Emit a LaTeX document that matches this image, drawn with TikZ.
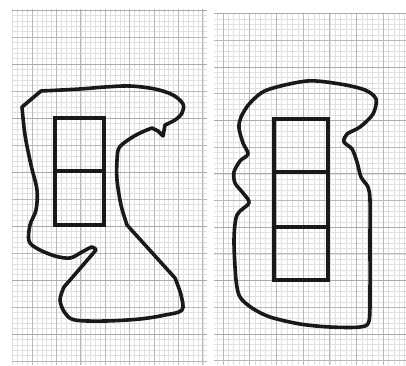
\documentclass[tikz,border=0pt]{standalone}
\begin{document}
\begin{tikzpicture}[x=1pt,y=-1pt,
  minorln/.style={draw=black!12,line width=0.5pt},
  majorln/.style={draw=black!28,line width=0.9pt},
  darkln/.style={draw=black!33,line width=1.0pt},
  blob/.style={draw=black!90,line width=3.6pt,line join=round,line cap=round},
  cell/.style={draw=black!90,line width=3.5pt}]
\useasboundingbox (0,0) rectangle (406,365);
\fill[white] (0,0) rectangle (406,365);
% left sheet
\begin{scope}
\clip (12,9) rectangle (207,365);
\foreach \i in {0,...,45} {\draw[minorln] ({7.6+4.88*\i},9) -- ({7.6+4.88*\i},365);}
\foreach \i in {0,...,70} {\draw[minorln] (12,{10+5.4*\i}) -- (207,{10+5.4*\i});}
\foreach \i in {0,...,8} {\draw[majorln] ({32+24.4*\i},9) -- ({32+24.4*\i},365);}
\foreach \i in {0,...,13} {\draw[majorln] (12,{10+27*\i}) -- (207,{10+27*\i});}
\foreach \i in {0,...,6} {\draw[darkln] (12,{10+54*\i}) -- (207,{10+54*\i});}
\end{scope}
% right sheet
\begin{scope}
\clip (214,13) rectangle (406,365);
\foreach \i in {0,...,45} {\draw[minorln] ({196.3+5.34*\i},13) -- ({196.3+5.34*\i},365);}
\foreach \i in {0,...,70} {\draw[minorln] (214,{13.6+5.34*\i}) -- (406,{13.6+5.34*\i});}
\foreach \i in {0,...,8} {\draw[majorln] ({196.3+26.7*\i},13) -- ({196.3+26.7*\i},365);}
\foreach \i in {0,...,14} {\draw[majorln] (214,{13.6+26.7*\i}) -- (406,{13.6+26.7*\i});}
\foreach \i in {0,...,7} {\draw[darkln] (214,{13.6+53.4*\i}) -- (406,{13.6+53.4*\i});}
\end{scope}
% left outline
\draw[blob] plot[smooth,tension=0.55] coordinates {(41,91) (80,89) (105,87) (130,86) (155,89) (173,95) (183,104) (182,113) (175,120) (165,125)}
  -- (163,136) -- (158,131)
  -- plot[smooth,tension=0.55] coordinates {(152,128) (140,133) (128,140) (119,148) (117,160) (117,180) (121,205) (127,225)}
  -- plot[smooth,tension=0.55] coordinates {(175,278) (181,295) (182,310) (165,315) (140,319) (105,321) (75,320) (65,313) (60,300) (64,287)}
  -- plot[smooth,tension=0.55] coordinates {(96,250) (92,247) (82,252) (70,258) (55,256) (38,249) (29,241) (30,225) (36,210) (37,190) (31,165) (25,135) (22,107)}
  -- cycle;
% left cells
\draw[cell] (55,118) rectangle (104,225);
\draw[cell] (55,171) -- (104,171);
% right outline
\draw[blob] plot[smooth cycle,tension=0.5] coordinates {(307,81) (340,84) (365,90) (376,99) (373,114) (360,127) (347,134) (344,142) (352,149) (357,162) (361,177) (368,187) (370,200) (370,240) (370,290) (369,321) (360,327) (330,327) (300,324) (270,317) (252,308) (240,297) (236,280) (234,240) (237,215) (249,203) (243,193) (235,183) (234,172) (240,161) (248,154) (243,143) (239,128) (241,117) (250,103) (267,90)};
% right cells
\draw[cell] (274,119) rectangle (328,280);
\draw[cell] (274,172) -- (328,172);
\draw[cell] (274,227) -- (328,227);
\end{tikzpicture}
\end{document}
